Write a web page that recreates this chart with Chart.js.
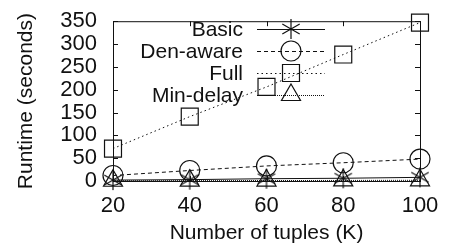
<!DOCTYPE html>
<html lang="en">
<head>
    <meta charset="UTF-8">
    <title>Runtime vs number of tuples</title>
    <script src="https://cdn.jsdelivr.net/npm/chart.js"></script>
    <style>
        body { margin: 0; background: #fff; }
        canvas { display: block; }
    </style>
</head>
<body>
<canvas id="myChart" width="466" height="251"></canvas>
<script>
    const tuples = [20, 40, 60, 80, 100];
    const basic = [2, 3, 5, 6, 8];
    const denAware = [12, 23, 33, 40, 48];
    const full = [71, 141, 206, 277, 347];
    const minDelay = [0.5, 0.8, 1, 1.2, 1.5];
    const yTicks = [0, 50, 100, 150, 200, 250, 300, 350];

    const FONT = "'Liberation Sans', Arial, sans-serif";
    const INK = '#111';

    // gnuplot-like asterisk marker (6 arms)
    function makeAsterisk(size) {
        const c = document.createElement('canvas');
        c.width = size; c.height = size;
        const g = c.getContext('2d');
        const m = size / 2, r = size / 2 - 1;
        g.strokeStyle = INK;
        g.lineWidth = 1.2;
        g.beginPath();
        g.moveTo(m, m - r); g.lineTo(m, m + r);
        g.moveTo(m - r * 0.87, m - r * 0.5); g.lineTo(m + r * 0.87, m + r * 0.5);
        g.moveTo(m - r * 0.87, m + r * 0.5); g.lineTo(m + r * 0.87, m - r * 0.5);
        g.stroke();
        return c;
    }
    const asterisk = makeAsterisk(22);

    function series(label, values, style, radius, dash) {
        return {
            label: label,
            data: values,
            borderColor: INK,
            backgroundColor: 'rgba(0,0,0,0)',
            borderWidth: 1,
            borderDash: dash,
            pointStyle: style,
            pointRadius: radius,
            pointHoverRadius: radius,
            pointBorderColor: INK,
            pointBackgroundColor: 'rgba(0,0,0,0)',
            pointBorderWidth: 1.2,
            tension: 0,
            clip: false
        };
    }

    // frame, inward ticks and the in-plot legend
    const framePlugin = {
        id: 'frame',
        afterDatasetsDraw(chart) {
            const ctx = chart.ctx;
            const a = chart.chartArea;
            const xs = chart.scales.x, ys = chart.scales.y;
            ctx.save();
            ctx.strokeStyle = INK;
            ctx.lineWidth = 1;
            ctx.strokeRect(a.left + 0.5, a.top + 0.5, a.right - a.left, a.bottom - a.top);
            ctx.beginPath();
            tuples.forEach(v => {
                const px = Math.round(xs.getPixelForValue(v)) + 0.5;
                ctx.moveTo(px, a.bottom); ctx.lineTo(px, a.bottom - 5);
                ctx.moveTo(px, a.top); ctx.lineTo(px, a.top + 5);
            });
            yTicks.forEach(v => {
                const py = Math.round(ys.getPixelForValue(v)) + 0.5;
                ctx.moveTo(a.left, py); ctx.lineTo(a.left + 5, py);
                ctx.moveTo(a.right, py); ctx.lineTo(a.right - 5, py);
            });
            ctx.stroke();

            // legend
            ctx.font = '21px ' + FONT;
            ctx.textAlign = 'right';
            ctx.textBaseline = 'middle';
            chart.data.datasets.forEach((ds, i) => {
                const y = 29 + i * 22;
                ctx.fillStyle = INK;
                ctx.fillText(ds.label, 243, y + 1);
                ctx.save();
                ctx.setLineDash(ds.borderDash || []);
                ctx.beginPath();
                ctx.moveTo(257, y + 0.5); ctx.lineTo(325, y + 0.5);
                ctx.stroke();
                ctx.restore();
                ctx.lineWidth = 1.2;
                ctx.fillStyle = 'rgba(0,0,0,0)';
                Chart.helpers.drawPoint(ctx, {
                    pointStyle: ds.pointStyle,
                    radius: ds.pointRadius,
                    borderWidth: 1.2
                }, 291, y);
                ctx.lineWidth = 1;
            });
            ctx.restore();
        }
    };

    new Chart(document.getElementById('myChart'), {
        type: 'line',
        data: {
            labels: tuples,
            datasets: [
                series('Basic', basic, asterisk, 11, []),
                series('Den-aware', denAware, 'circle', 10, [4, 3]),
                series('Full', full, 'rect', 12, [1.5, 3]),
                series('Min-delay', minDelay, 'triangle', 11, [1, 1])
            ]
        },
        options: {
            responsive: false,
            animation: false,
            layout: { padding: { top: 13, right: 46, left: 0, bottom: 0 } },
            plugins: {
                legend: { display: false },
                tooltip: { enabled: false }
            },
            scales: {
                x: {
                    type: 'linear',
                    min: 20,
                    max: 100,
                    afterBuildTicks: s => { s.ticks = tuples.map(v => ({ value: v })); },
                    afterFit: s => { s.height = 70; },
                    grid: { display: false },
                    border: { display: false },
                    ticks: { color: INK, font: { family: FONT, size: 22 }, padding: 4, maxRotation: 0, autoSkip: false },
                    title: {
                        display: true,
                        text: 'Number of tuples (K)',
                        color: INK,
                        font: { family: FONT, size: 21 },
                        padding: { top: 0, bottom: 5 }
                    }
                },
                y: {
                    min: 0,
                    max: 350,
                    afterBuildTicks: s => { s.ticks = yTicks.map(v => ({ value: v })); },
                    afterFit: s => { s.width = 113; },
                    grid: { display: false },
                    border: { display: false },
                    ticks: { color: INK, font: { family: FONT, size: 22 }, padding: 8, autoSkip: false },
                    title: {
                        display: true,
                        text: 'Runtime (seconds)',
                        color: INK,
                        font: { family: FONT, size: 21 },
                        padding: { top: 14, bottom: 0 }
                    }
                }
            }
        },
        plugins: [framePlugin]
    });
</script>
</body>
</html>
